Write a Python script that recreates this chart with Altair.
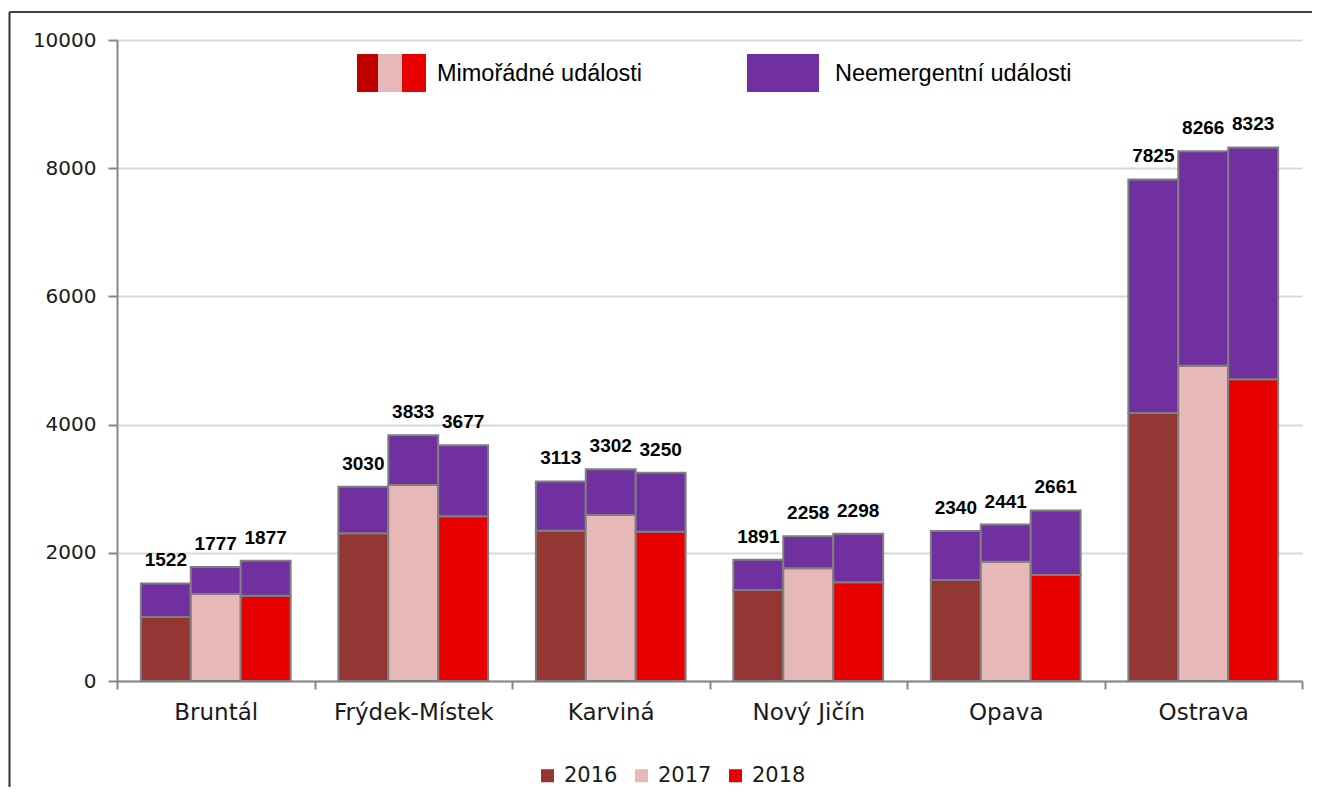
import altair as alt
import pandas as pd

districts = ["Bruntál", "Frýdek-Místek", "Karviná", "Nový Jičín", "Opava", "Ostrava"]
years = ["2016", "2017", "2018"]

totals_2016 = [1522, 3030, 3113, 1891, 2340, 7825]
totals_2017 = [1777, 3833, 3302, 2258, 2441, 8266]
totals_2018 = [1877, 3677, 3250, 2298, 2661, 8323]

emerg_2016 = [1000, 2304, 2345, 1420, 1576, 4180]
emerg_2017 = [1357, 3058, 2590, 1758, 1861, 4920]
emerg_2018 = [1331, 2570, 2330, 1540, 1654, 4707]

year_colors = ["#943634", "#E6B9B8", "#E60000"]
nonemerg_color = "#7030A0"
nonemerg_key = "Neemergentní události"

totals = {"2016": totals_2016, "2017": totals_2017, "2018": totals_2018}
emerg = {"2016": emerg_2016, "2017": emerg_2017, "2018": emerg_2018}

rows = []
trows = []
for y in years:
    for i, d in enumerate(districts):
        rows.append({"district": d, "year": y, "key": y, "ord": 0, "value": emerg[y][i]})
        rows.append({"district": d, "year": y, "key": nonemerg_key, "ord": 1,
                     "value": totals[y][i] - emerg[y][i]})
        trows.append({"district": d, "year": y, "total": totals[y][i]})
df = pd.DataFrame(rows)
tdf = pd.DataFrame(trows)

X0 = 117
Y0 = 40

xenc = alt.X("district:N", sort=districts, title=None,
             scale=alt.Scale(paddingInner=0, paddingOuter=0),
             axis=alt.Axis(labelAngle=0, tickBand="extent", tickSize=8, tickColor="#868686",
                           tickWidth=2, domainColor="#868686", domainWidth=2,
                           labelFont="DejaVu Sans", labelFontSize=23, labelColor="#1a1a1a",
                           labelPadding=12, grid=False))
xoff = alt.XOffset("year:N", sort=years, scale=alt.Scale(paddingInner=0, paddingOuter=0.478))

bars = alt.Chart(df).mark_bar(stroke="#7f7f7f", strokeWidth=2).encode(
    x=xenc,
    xOffset=xoff,
    y=alt.Y("value:Q", stack="zero", title=None,
            scale=alt.Scale(domain=[0, 10000], nice=False),
            axis=alt.Axis(values=[0, 2000, 4000, 6000, 8000, 10000], format="d",
                          gridColor="#d9d9d9", gridWidth=2, domainColor="#868686",
                          domainWidth=2, tickColor="#868686", tickWidth=2, tickSize=9,
                          labelFont="DejaVu Sans", labelFontSize=20, labelColor="#1a1a1a",
                          labelPadding=12)),
    color=alt.Color("key:N",
                    scale=alt.Scale(domain=years + [nonemerg_key],
                                    range=year_colors + [nonemerg_color]),
                    legend=alt.Legend(values=years, title=None, orient="none",
                                      direction="horizontal", columns=3,
                                      legendX=537 - X0, legendY=765 - Y0,
                                      symbolType="square", symbolSize=169,
                                      symbolStrokeWidth=0, labelFont="DejaVu Sans",
                                      labelFontSize=21, labelColor="#1a1a1a",
                                      labelOffset=6, columnPadding=13)),
    order=alt.Order("ord:Q"),
)

labels = alt.Chart(tdf).mark_text(baseline="alphabetic", dy=-17, font="Liberation Sans",
                                  fontWeight="bold", fontSize=19, color="#000000").encode(
    x=alt.X("district:N", sort=districts),
    xOffset=alt.XOffset("year:N", sort=years),
    y=alt.Y("total:Q"),
    text=alt.Text("total:Q", format="d"),
)

one = pd.DataFrame({"a": [0]})


def swatch(x1, x2, color):
    return alt.Chart(one).mark_rect(color=color).encode(
        x=alt.value(x1 - X0), x2=alt.value(x2 - X0),
        y=alt.value(54 - Y0), y2=alt.value(92 - Y0))


def legtext(x, txt):
    return alt.Chart(one).mark_text(align="left", baseline="middle", font="Liberation Sans",
                                    fontSize=23.5, color="#000000").encode(
        x=alt.value(x - X0), y=alt.value(74 - Y0), text=alt.value(txt))


top_legend = [
    swatch(357, 378, "#C00000"),
    swatch(378, 402, "#E6B9B8"),
    swatch(402, 426, "#E80000"),
    legtext(437, "Mimořádné události"),
    swatch(747, 819, nonemerg_color),
    legtext(835, nonemerg_key),
]

frame_left = alt.Chart(one).mark_rule(color="#303030", strokeWidth=2).encode(
    x=alt.value(9.5 - X0), y=alt.value(12 - Y0), y2=alt.value(787 - Y0))
frame_top = alt.Chart(one).mark_rule(color="#404040", strokeWidth=2).encode(
    x=alt.value(9.5 - X0), x2=alt.value(1312 - X0), y=alt.value(12 - Y0))

chart = alt.layer(bars, labels, *top_legend, frame_left, frame_top).properties(
    width=1185, height=641,
    padding={"left": 109, "top": 32, "right": 12, "bottom": 106},
    autosize=alt.AutoSizeParams(type="none"),
).configure_view(strokeWidth=0)

chart.save("out.html", embed_options={"renderer": "svg", "actions": False})
